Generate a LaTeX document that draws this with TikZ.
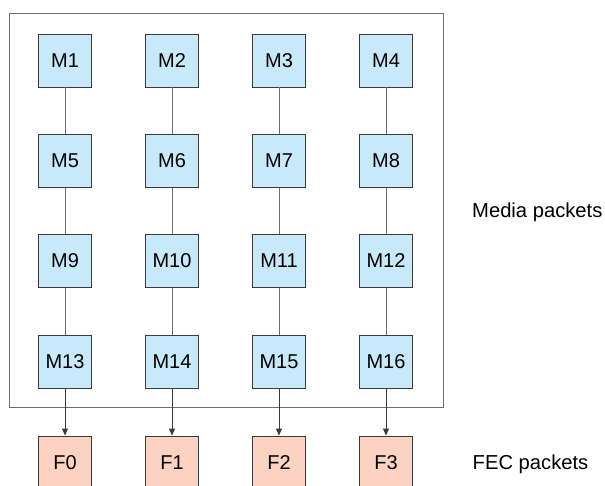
\documentclass[tikz,border=0pt]{standalone}
\usepackage{fontspec}
\setmainfont{Liberation Sans}
\usetikzlibrary{arrows.meta}
\definecolor{mblue}{HTML}{C8E9F9}
\definecolor{fsalmon}{HTML}{FCD3C2}
\definecolor{bordergray}{HTML}{3A3A3A}
\definecolor{linegray}{HTML}{6E6E6E}
\tikzset{
  x=1pt, y=-1pt,
  pkt/.style={draw=bordergray, line width=0.9pt, minimum width=53pt, minimum height=53pt, inner sep=0pt, font=\fontsize{20}{23}\selectfont},
  mpkt/.style={pkt, fill=mblue},
  fpkt/.style={pkt, fill=fsalmon},
  link/.style={draw=linegray, line width=1pt},
  fecarrow/.style={draw=bordergray, line width=0.9pt, -{Triangle[width=6pt,length=7pt]}},
  lbl/.style={font=\fontsize{20.2}{23}\selectfont, anchor=base west, inner sep=0pt}
}
\begin{document}
\begin{tikzpicture}
\useasboundingbox (0,0) rectangle (605,486);
\draw[draw=linegray, line width=1pt] (9.5,14) rectangle (443,407);
\foreach \c [count=\i] in {65,172,279,386}{
  \foreach \r [count=\j] in {60.5,161,261,361.5}{
    \pgfmathtruncatemacro{\n}{(\j-1)*4+\i}
    \node[mpkt] (m\n) at (\c,\r) {M\n};
  }
}
\foreach \c [count=\i] in {65,172,279,386}{
  \pgfmathtruncatemacro{\k}{\i-1}
  \node[fpkt] (f\k) at (\c,462.5) {F\k};
}
\foreach \i in {1,...,4}{
  \pgfmathtruncatemacro{\a}{\i+4}
  \pgfmathtruncatemacro{\b}{\i+8}
  \pgfmathtruncatemacro{\d}{\i+12}
  \pgfmathtruncatemacro{\k}{\i-1}
  \draw[link] (m\i) -- (m\a);
  \draw[link] (m\a) -- (m\b);
  \draw[link] (m\b) -- (m\d);
  \draw[fecarrow] (m\d) -- (f\k);
}
\node[lbl] (media) at (472,218) {Media packets};
\node[lbl] (fec) at (472.5,469.3) {FEC packets};
\end{tikzpicture}
\end{document}
